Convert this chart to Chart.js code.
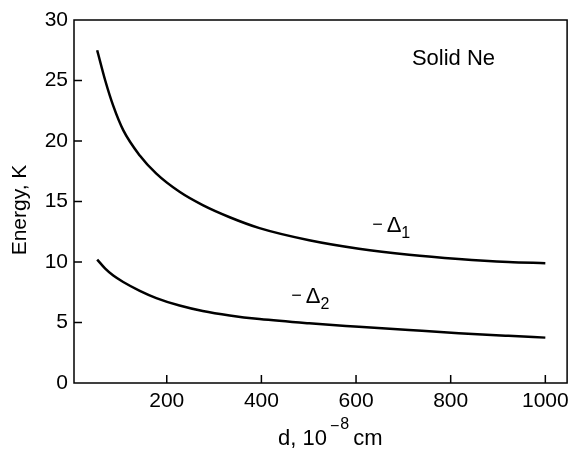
<!DOCTYPE html>
<html>
<head>
<meta charset="utf-8">
<script src="https://cdn.jsdelivr.net/npm/chart.js@4"></script>
<style>
  body { margin: 0; background: #fff; }
  #wrap { width: 575px; height: 449px; }
</style>
</head>
<body>
<div id="wrap"><canvas id="myChart"></canvas></div>
<script>
// data
const dValues = [53, 70, 87, 108, 143, 178, 227, 276, 333, 396, 501, 606, 712, 817, 922, 1000];
const delta1 = [27.5, 25.0, 22.9, 20.9, 18.8, 17.3, 15.8, 14.7, 13.7, 12.8, 11.8, 11.1, 10.6, 10.25, 10.0, 9.9];
const delta2 = [10.2, 9.45, 8.88, 8.35, 7.62, 7.02, 6.4, 5.95, 5.58, 5.28, 4.93, 4.65, 4.38, 4.12, 3.9, 3.75];
const xTicks = [200, 400, 600, 800, 1000];
const yTicks = [0, 5, 10, 15, 20, 25, 30];

const FONT = "'Liberation Sans', Arial, sans-serif";

const toPoints = (ys) => dValues.map((d, i) => ({ x: d, y: ys[i] }));

// frame, inward ticks, labels and axis titles
const extras = {
  id: "extras",
  afterDraw(chart) {
    const ctx = chart.ctx;
    const a = chart.chartArea;
    const xs = chart.scales.x;
    const ys = chart.scales.y;
    ctx.save();
    ctx.strokeStyle = "#000";
    ctx.lineWidth = 1.5;
    ctx.strokeRect(a.left, a.top, a.right - a.left, a.bottom - a.top);

    // ticks pointing inside
    ctx.beginPath();
    xTicks.forEach((v) => {
      const px = xs.getPixelForValue(v);
      ctx.moveTo(px, a.bottom);
      ctx.lineTo(px, a.bottom - 8);
    });
    yTicks.forEach((v) => {
      if (v <= ys.min || v >= ys.max) return;
      const py = ys.getPixelForValue(v);
      ctx.moveTo(a.left, py);
      ctx.lineTo(a.left + 8, py);
    });
    ctx.stroke();

    ctx.fillStyle = "#000";
    ctx.textBaseline = "alphabetic";

    // Solid Ne
    ctx.font = "22px " + FONT;
    ctx.textAlign = "left";
    ctx.fillText("Solid Ne", xs.getPixelForValue(718), ys.getPixelForValue(26.25));

    // curve labels
    const curveLabel = (dx, ey, sub) => {
      let px = xs.getPixelForValue(dx);
      const py = ys.getPixelForValue(ey);
      ctx.font = "18px " + FONT;
      ctx.fillText("\u2212", px, py - 2);
      px += ctx.measureText("\u2212").width + 4;
      ctx.font = "22px " + FONT;
      ctx.fillText("\u0394", px, py);
      px += ctx.measureText("\u0394").width;
      ctx.font = "16px " + FONT;
      ctx.fillText(sub, px, py + 6);
    };
    curveLabel(634, 12.5, "1");
    curveLabel(463, 6.6, "2");

    // x axis title: d, 10^-8 cm
    let tx = 278;
    const ty = 445;
    ctx.font = "22px " + FONT;
    ctx.fillText("d, 10", tx, ty);
    tx += ctx.measureText("d, 10").width + 3;
    ctx.font = "16px " + FONT;
    ctx.fillText("\u2212", tx, ty - 14);
    tx += ctx.measureText("\u2212").width + 1;
    ctx.fillText("8", tx, ty - 16);
    tx += ctx.measureText("8").width + 4;
    ctx.font = "22px " + FONT;
    ctx.fillText("cm", tx, ty);

    // y axis title
    ctx.translate(20, 210);
    ctx.rotate(-Math.PI / 2);
    ctx.textAlign = "center";
    ctx.textBaseline = "middle";
    ctx.font = "21px " + FONT;
    ctx.fillText("Energy, K", 0, 0);
    ctx.restore();
  },
};

let ctx1 = document.getElementById("myChart").getContext("2d");
let myChart = new Chart(ctx1, {
  type: "scatter",
  data: {
    datasets: [
      {
        label: "-Δ1",
        data: toPoints(delta1),
        showLine: true,
        borderColor: "#000",
        borderWidth: 2.5,
        pointRadius: 0,
        cubicInterpolationMode: "monotone",
      },
      {
        label: "-Δ2",
        data: toPoints(delta2),
        showLine: true,
        borderColor: "#000",
        borderWidth: 2.5,
        pointRadius: 0,
        cubicInterpolationMode: "monotone",
      },
    ],
  },
  options: {
    responsive: true,
    maintainAspectRatio: false,
    animation: false,
    layout: { padding: { top: 20, right: 7, left: 0, bottom: 0 } },
    plugins: {
      legend: { display: false },
      tooltip: { enabled: false },
    },
    scales: {
      x: {
        type: "linear",
        min: 4,
        max: 1046,
        afterBuildTicks: (s) => { s.ticks = xTicks.map((v) => ({ value: v })); },
        afterFit: (s) => { s.height = 66; },
        grid: { display: false, drawTicks: false },
        border: { display: false },
        ticks: {
          color: "#000",
          padding: 6,
          font: { size: 21, family: FONT },
          maxRotation: 0,
          callback: (v) => String(v),
        },
      },
      y: {
        min: 0,
        max: 30,
        afterBuildTicks: (s) => { s.ticks = yTicks.map((v) => ({ value: v })); },
        afterFit: (s) => { s.width = 74; },
        grid: { display: false, drawTicks: false },
        border: { display: false },
        ticks: {
          color: "#000",
          padding: 6,
          font: { size: 21, family: FONT },
          callback: (v) => String(v),
        },
      },
    },
  },
  plugins: [extras],
});
</script>
</body>
</html>
